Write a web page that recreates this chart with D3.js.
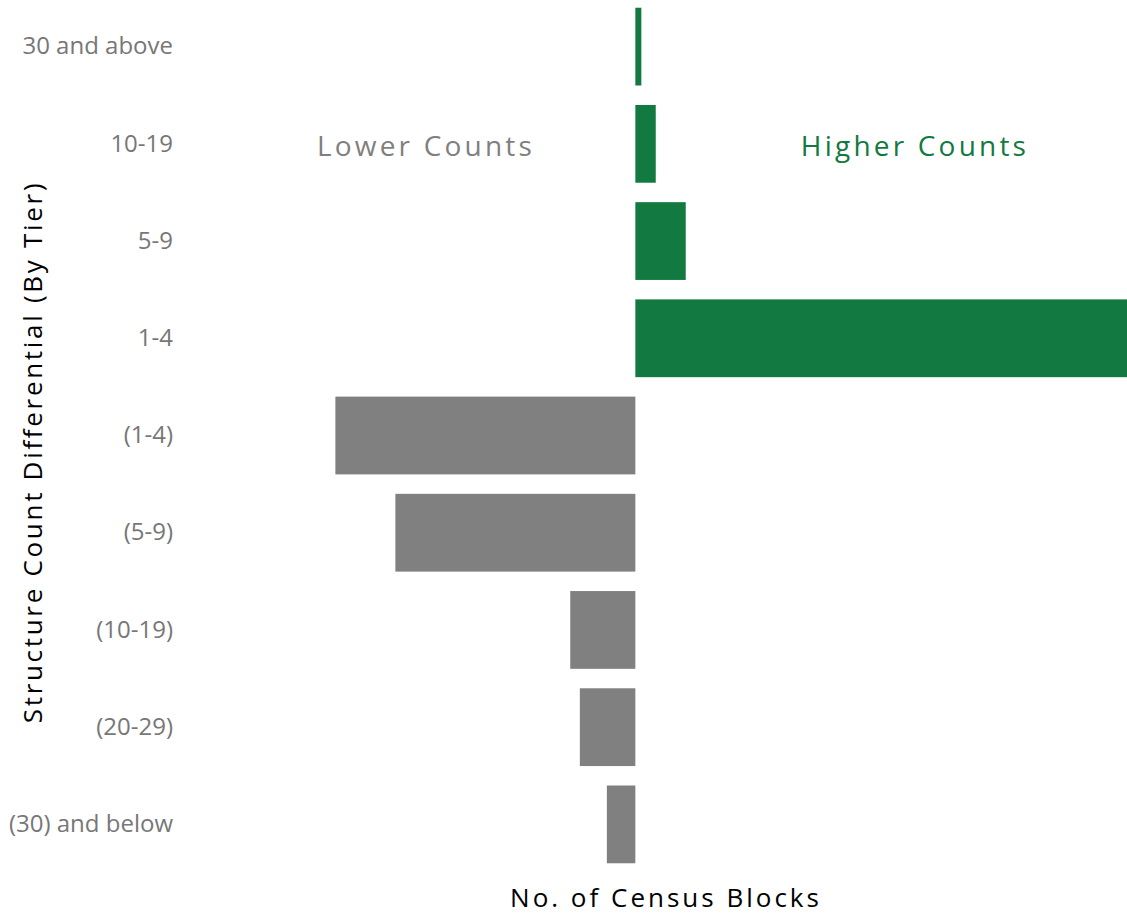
<!DOCTYPE html>
<html>
<head>
<meta charset="utf-8">
<script src="https://cdn.jsdelivr.net/npm/d3@7"></script>
<style>
  body { margin: 0; background: #fff; }
  svg { display: block; }
</style>
</head>
<body>
<div id="chart"></div>
<script>
const categories = ['30 and above', '10-19', '5-9', '1-4', '(1-4)', '(5-9)', '(10-19)', '(20-29)', '(30) and below'];
// number of census blocks per tier (negative = lower counts)
const values = [20, 68, 168, 1650, -1000, -800, -217, -185, -95];

const width = 1127;
const height = 916;

const svg = d3.select('#chart')
  .append('svg')
  .attr('width', width)
  .attr('height', height);

const x = d3.scaleLinear()
  .domain([-2118, 1639])
  .range([0, width]);

const y = d3.scaleBand()
  .domain(categories)
  .range([-2, 873])
  .paddingInner(0.2)
  .paddingOuter(0.1);

const data = categories.map((c, i) => ({ category: c, value: values[i] }));

svg.selectAll('.bar')
  .data(data)
  .enter().append('rect')
  .attr('class', 'bar')
  .attr('x', d => x(Math.min(0, d.value)))
  .attr('y', d => y(d.category))
  .attr('width', d => Math.abs(x(d.value) - x(0)))
  .attr('height', y.bandwidth())
  .attr('fill', d => d.value >= 0 ? '#127a41' : '#808080');

// category axis
const yAxis = svg.append('g')
  .attr('transform', 'translate(173, 0)')
  .call(d3.axisLeft(y).tickSize(0).tickPadding(0));
yAxis.select('.domain').remove();
yAxis.selectAll('text')
  .attr('font-family', "'Open Sans', 'Noto Sans', sans-serif")
  .attr('font-size', 24)
  .attr('fill', '#777');

svg.append('text')
  .attr('transform', 'translate(42, 452) rotate(-90)')
  .attr('text-anchor', 'middle')
  .attr('font-family', "'Open Sans', 'Noto Sans', sans-serif")
  .attr('font-size', 26)
  .attr('letter-spacing', 2.7)
  .attr('fill', '#000')
  .text('Structure Count Differential (By Tier)');

svg.append('text')
  .attr('x', 666)
  .attr('y', 907)
  .attr('text-anchor', 'middle')
  .attr('font-family', "'Open Sans', 'Noto Sans', sans-serif")
  .attr('font-size', 26)
  .attr('letter-spacing', 3)
  .attr('fill', '#000')
  .text('No. of Census Blocks');

svg.append('text')
  .attr('x', 426)
  .attr('y', 156)
  .attr('text-anchor', 'middle')
  .attr('font-family', "'Open Sans', 'Noto Sans', sans-serif")
  .attr('font-size', 28)
  .attr('letter-spacing', 3.2)
  .attr('fill', '#7f7f7f')
  .text('Lower Counts');

svg.append('text')
  .attr('x', 915)
  .attr('y', 156)
  .attr('text-anchor', 'middle')
  .attr('font-family', "'Open Sans', 'Noto Sans', sans-serif")
  .attr('font-size', 28)
  .attr('letter-spacing', 3.2)
  .attr('fill', '#127a41')
  .text('Higher Counts');
</script>
</body>
</html>
